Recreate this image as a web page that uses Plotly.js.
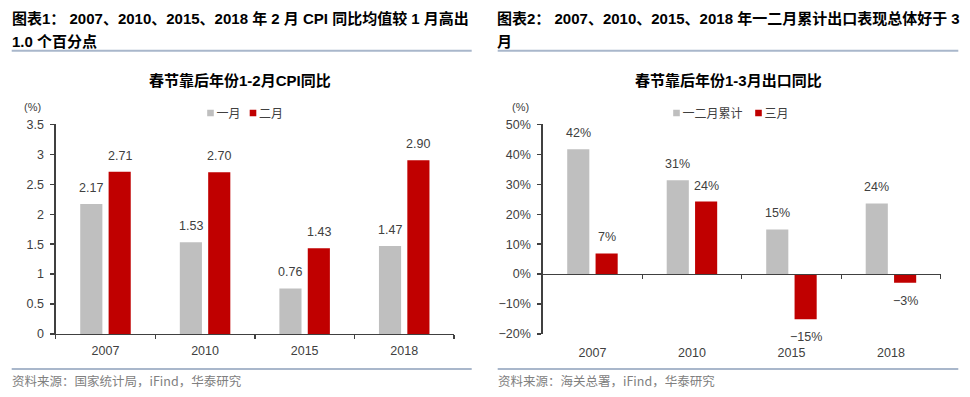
<!DOCTYPE html>
<html>
<head>
<meta charset="utf-8">
<script src="https://cdn.plot.ly/plotly-3.0.1.min.js"></script>
<style>
html,body{margin:0;padding:0;background:#fff;}
#chart{width:970px;height:397px;}
g.legendpoints path{transform:translate(34px,0px) scale(0.55);}
</style>
</head>
<body>
<div id="chart"></div>
<script>
// ---- data ----
const years = ['2007', '2010', '2015', '2018'];

// Left panel: CPI YoY (%)
const cpiSeriesNames = ['一月', '二月'];
const cpiJan = [2.17, 1.53, 0.76, 1.47];
const cpiFeb = [2.71, 2.70, 1.43, 2.90];

// Right panel: export YoY (%)
const expSeriesNames = ['一二月累计', '三月'];
const expJanFeb = [41.7, 31.3, 14.9, 23.6];
const expMar = [6.9, 24.2, -15.1, -2.9];

// Texts
const heading1 = ['图表1： 2007、2010、2015、2018 年 2 月 CPI 同比均值较 1 月高出', '1.0 个百分点'];
const heading2 = ['图表2： 2007、2010、2015、2018 年一二月累计出口表现总体好于 3', '月'];
const chartTitle1 = '春节靠后年份1-2月CPI同比';
const chartTitle2 = '春节靠后年份1-3月出口同比';
const source1 = '资料来源：国家统计局，iFind，华泰研究';
const source2 = '资料来源：海关总署，iFind，华泰研究';
const unitLabel = '(%)';

// ---- style ----
const W = 970, H = 397;
const GRAY = '#bfbfbf', RED = '#c00000', AX = '#404040', TXT = '#404040';
const LAT = 'Liberation Sans, Arial, Noto Sans CJK SC, sans-serif';
const CJK = 'Liberation Sans, Noto Sans CJK SC, sans-serif';
const px = v => v / W, py = v => 1 - v / H;

const domL = [px(55.7), px(454)];
const domR = [px(542.7), px(940.7)];
const domY = [py(334), py(124.3)];
const rangeR = [-20, 50];
const zeroPos = domY[0] + (0 - rangeR[0]) / (rangeR[1] - rangeR[0]) * (domY[1] - domY[0]);

const traces = [
  {type: 'bar', name: cpiSeriesNames[0], x: years, y: cpiJan, marker: {color: GRAY}, xaxis: 'x', yaxis: 'y', legend: 'legend', hoverinfo: 'skip'},
  {type: 'bar', name: cpiSeriesNames[1], x: years, y: cpiFeb, marker: {color: RED}, xaxis: 'x', yaxis: 'y', legend: 'legend2', hoverinfo: 'skip'},
  {type: 'bar', name: expSeriesNames[0], x: years, y: expJanFeb, marker: {color: GRAY}, xaxis: 'x2', yaxis: 'y2', legend: 'legend3', hoverinfo: 'skip'},
  {type: 'bar', name: expSeriesNames[1], x: years, y: expMar, marker: {color: RED}, xaxis: 'x2', yaxis: 'y2', legend: 'legend4', hoverinfo: 'skip'},
  {type: 'scatter', x: [], y: [], xaxis: 'x3', yaxis: 'y2', showlegend: false, hoverinfo: 'skip'}
];

// value labels, placed through the axes (category index)
const annotations = [];
const SHIFT = 14.2;
function addLabels(xref, yref, vals, dx, fmt) {
  vals.forEach((v, i) => {
    annotations.push({
      xref: xref, yref: yref, x: i, y: v, text: fmt(v), showarrow: false,
      xshift: dx, yshift: v >= 0 ? 16 : -18, yanchor: 'middle', xanchor: 'center',
      font: {family: LAT, size: 12.5, color: TXT}
    });
  });
}
addLabels('x', 'y', cpiJan, -SHIFT, v => v.toFixed(2));
addLabels('x', 'y', cpiFeb, SHIFT, v => v.toFixed(2));
const pct = v => (v < 0 ? '\u2212' : '') + Math.abs(Math.round(v)) + '%';
addLabels('x2', 'y2', expJanFeb, -SHIFT, pct);
addLabels('x2', 'y2', expMar, SHIFT, pct);

function paperText(text, x, y, font, xanchor) {
  annotations.push({xref: 'paper', yref: 'paper', x: px(x), y: py(y), text: text, showarrow: false,
    xanchor: xanchor || 'left', yanchor: 'middle', font: font});
}
const headFont = {family: CJK, size: 15, color: '#000'};
paperText('<b>' + heading1[0] + '</b>', 10, 18.5, headFont);
paperText('<b>' + heading1[1] + '</b>', 10, 41.5, headFont);
paperText('<b>' + heading2[0] + '</b>', 495, 18.5, headFont);
paperText('<b>' + heading2[1] + '</b>', 495, 41.5, headFont);
const ctFont = {family: CJK, size: 15, color: '#000'};
paperText('<b>' + chartTitle1 + '</b>', 240, 81, ctFont, 'center');
paperText('<b>' + chartTitle2 + '</b>', 728, 81, ctFont, 'center');
const srcFont = {family: 'Noto Sans CJK SC, sans-serif', size: 12.5, color: '#808080'};
paperText(source1, 10, 380, srcFont);
paperText(source2, 496, 380, srcFont);
const unitFont = {family: CJK, size: 11, color: TXT};
paperText(unitLabel, 32, 107, unitFont, 'center');
paperText(unitLabel, 520, 107, unitFont, 'center');

const SEP = '#a9b7cb';
const shapes = [
  {type: 'line', xref: 'paper', yref: 'paper', x0: px(11.7), x1: px(471.7), y0: py(50.7), y1: py(50.7), line: {color: SEP, width: 2}},
  {type: 'line', xref: 'paper', yref: 'paper', x0: px(497.7), x1: px(958.3), y0: py(50.7), y1: py(50.7), line: {color: SEP, width: 2}},
  {type: 'line', xref: 'paper', yref: 'paper', x0: px(11.7), x1: px(471.7), y0: py(369), y1: py(369), line: {color: SEP, width: 2}},
  {type: 'line', xref: 'paper', yref: 'paper', x0: px(497.7), x1: px(958.3), y0: py(369), y1: py(369), line: {color: SEP, width: 2}}
];

const tickFont = {family: LAT, size: 12.5, color: TXT};
const legendCommon = {orientation: 'h', xanchor: 'left', yanchor: 'middle', bgcolor: 'rgba(0,0,0,0)',
  font: {family: 'Noto Sans CJK SC, sans-serif', size: 12, color: TXT}, itemclick: false, itemdoubleclick: false};
const LEG_OFF = 32.5;

const layout = {
  width: W, height: H,
  margin: {l: 0, r: 0, t: 0, b: 0},
  paper_bgcolor: '#fff', plot_bgcolor: 'rgba(0,0,0,0)',
  showlegend: true,
  barmode: 'group', bargap: 0.43, bargroupgap: 0.22,
  legend: Object.assign({}, legendCommon, {x: px(209 - LEG_OFF), y: py(113)}),
  legend2: Object.assign({}, legendCommon, {x: px(251.5 - LEG_OFF), y: py(113)}),
  legend3: Object.assign({}, legendCommon, {x: px(675 - LEG_OFF), y: py(113)}),
  legend4: Object.assign({}, legendCommon, {x: px(757 - LEG_OFF), y: py(113)}),
  xaxis: {domain: domL, anchor: 'y', type: 'category', showline: true, linecolor: AX, linewidth: 1.3,
    ticks: 'outside', tickson: 'boundaries', ticklen: 4, tickcolor: AX, tickwidth: 1.3,
    tickfont: tickFont, showgrid: false, ticklabelstandoff: 5, fixedrange: true},
  yaxis: {domain: domY, anchor: 'x', range: [0, 3.5], dtick: 0.5, tick0: 0, showline: true, linecolor: AX, linewidth: 1.3,
    ticks: 'outside', ticklen: 4, tickcolor: AX, tickwidth: 1.3, tickfont: tickFont, showgrid: false,
    zeroline: false, ticklabelstandoff: 4, fixedrange: true},
  xaxis2: {domain: domR, anchor: 'y2', type: 'category', showline: false, ticks: '',
    tickfont: tickFont, showgrid: false, ticklabelstandoff: 9, fixedrange: true},
  yaxis2: {domain: domY, anchor: 'x2', range: rangeR, dtick: 10, tick0: 0, ticksuffix: '%', showline: true, linecolor: AX, linewidth: 1.3,
    ticks: 'outside', ticklen: 4, tickcolor: AX, tickwidth: 1.3, tickfont: tickFont, showgrid: false,
    zeroline: false, ticklabelstandoff: 4, fixedrange: true},
  xaxis3: {overlaying: 'x2', anchor: 'free', position: zeroPos, range: [-0.5, 3.5],
    tickmode: 'array', tickvals: [-0.5, 0.5, 1.5, 2.5, 3.5], showticklabels: false,
    showline: true, linecolor: AX, linewidth: 1.3, ticks: 'outside', ticklen: 4, tickcolor: AX, tickwidth: 1.3,
    showgrid: false, zeroline: false, fixedrange: true},
  annotations: annotations,
  shapes: shapes
};

Plotly.newPlot('chart', traces, layout, {staticPlot: true, displayModeBar: false});
</script>
</body>
</html>
